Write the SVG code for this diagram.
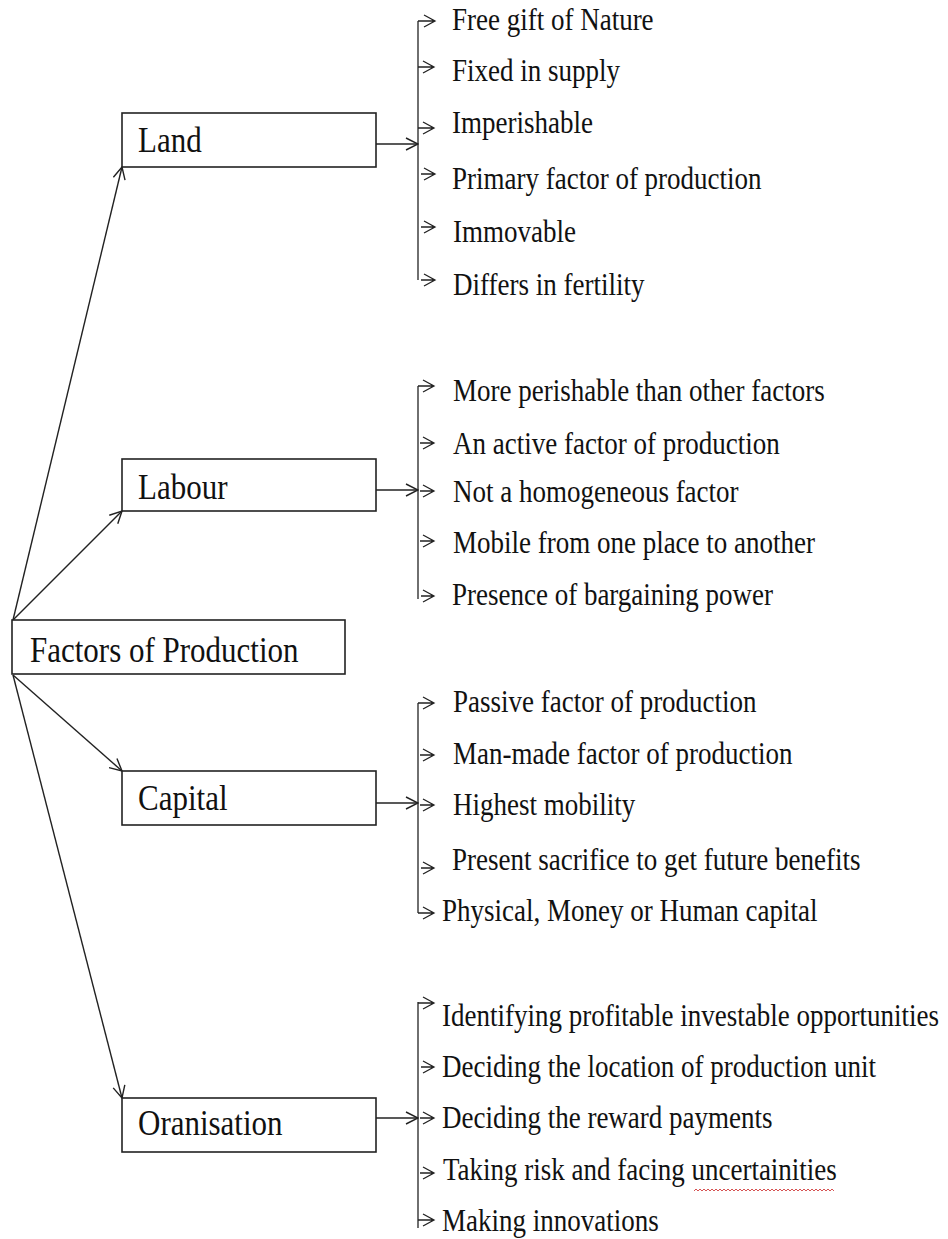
<svg xmlns="http://www.w3.org/2000/svg" width="948" height="1239" viewBox="0 0 948 1239">
<defs>
<style>
.box{fill:#fff;stroke:#222;stroke-width:1.6}
.lbl{font-family:"Liberation Serif","Times New Roman",serif;font-size:31px;fill:#111}
.it{font-family:"Liberation Serif","Times New Roman",serif;font-size:27px;fill:#111}
.ln{fill:none;stroke:#222;stroke-width:1.4}
.sm{fill:none;stroke:#222;stroke-width:1.3}
</style>
<marker id="ah" markerUnits="userSpaceOnUse" viewBox="0 0 14 14" refX="13" refY="7" markerWidth="14" markerHeight="14" orient="auto">
<path d="M1,1 L13,7 L1,13" fill="none" stroke="#222" stroke-width="1.4"/>
</marker>
</defs>
<rect width="948" height="1239" fill="#fff"/>

<g id="connectors">
<line class="ln" x1="13" y1="620" x2="122" y2="167" marker-end="url(#ah)"/>
<line class="ln" x1="13" y1="620" x2="122" y2="511" marker-end="url(#ah)"/>
<line class="ln" x1="13" y1="675" x2="122" y2="771" marker-end="url(#ah)"/>
<line class="ln" x1="13" y1="675" x2="122" y2="1098" marker-end="url(#ah)"/>
<line class="ln" x1="376" y1="144" x2="418" y2="144" marker-end="url(#ah)"/>
<line class="ln" x1="376" y1="490" x2="418" y2="490" marker-end="url(#ah)"/>
<line class="ln" x1="376" y1="803" x2="418" y2="803" marker-end="url(#ah)"/>
<line class="ln" x1="376" y1="1118" x2="418" y2="1118" marker-end="url(#ah)"/>
</g>

<g id="root">
<rect class="box" x="12" y="620" width="333" height="54"/>
<text class="lbl" transform="translate(30,662) scale(1,1.15)">Factors of Production</text>
</g>

<g id="land">
<rect class="box" x="122" y="113" width="254" height="54"/>
<text class="lbl" transform="translate(138,152) scale(1,1.15)">Land</text>
</g>
<g id="labour">
<rect class="box" x="122" y="459" width="254" height="52"/>
<text class="lbl" transform="translate(138,499) scale(1,1.15)">Labour</text>
</g>
<g id="capital">
<rect class="box" x="122" y="771" width="254" height="54"/>
<text class="lbl" transform="translate(138,810) scale(1,1.15)">Capital</text>
</g>
<g id="organisation">
<rect class="box" x="122" y="1098" width="254" height="54"/>
<text class="lbl" transform="translate(138,1135) scale(1,1.15)">Oranisation</text>
</g>

<g id="land-items">
<path class="sm" d="M418,21 V280"/>
<path class="sm" d="M418,21 h17 M424,15 l11,6 l-11,6 M418,67 h16 M423,61 l11,6 l-11,6 M418,128 h16 M423,122 l11,6 l-11,6 M421,174 h14 M424,168 l11,6 l-11,6 M421,227 h14 M424,221 l11,6 l-11,6 M421,280 h14 M424,274 l11,6 l-11,6"/>
<text class="it" transform="translate(452,30) scale(1,1.2)">Free gift of Nature</text>
<text class="it" transform="translate(452,81) scale(1,1.2)">Fixed in supply</text>
<text class="it" transform="translate(452,133) scale(1,1.2)">Imperishable</text>
<text class="it" transform="translate(452,189) scale(1,1.2)">Primary factor of production</text>
<text class="it" transform="translate(453,242) scale(1,1.2)">Immovable</text>
<text class="it" transform="translate(453,295) scale(1,1.2)">Differs in fertility</text>
</g>

<g id="labour-items">
<path class="sm" d="M418,386 V599"/>
<path class="sm" d="M418,386 h16 M423,380 l11,6 l-11,6 M420,443 h14 M423,437 l11,6 l-11,6 M420,491 h14 M423,485 l11,6 l-11,6 M420,541 h14 M423,535 l11,6 l-11,6 M421,596 h13 M423,590 l11,6 l-11,6"/>
<text class="it" transform="translate(453,401) scale(1,1.2)">More perishable than other factors</text>
<text class="it" transform="translate(453,454) scale(1,1.2)">An active factor of production</text>
<text class="it" transform="translate(453,502) scale(1,1.2)">Not a homogeneous factor</text>
<text class="it" transform="translate(453,553) scale(1,1.2)">Mobile from one place to another</text>
<text class="it" transform="translate(452,605) scale(1,1.2)">Presence of bargaining power</text>
</g>

<g id="capital-items">
<path class="sm" d="M418,703 V913"/>
<path class="sm" d="M418,703 h16 M423,697 l11,6 l-11,6 M420,755 h14 M423,749 l11,6 l-11,6 M420,805 h14 M423,799 l11,6 l-11,6 M421,868 h13 M423,862 l11,6 l-11,6 M418,913 h16 M423,907 l11,6 l-11,6"/>
<text class="it" transform="translate(453,712) scale(1,1.2)">Passive factor of production</text>
<text class="it" transform="translate(453,764) scale(1,1.2)">Man-made factor of production</text>
<text class="it" transform="translate(453,815) scale(1,1.2)">Highest mobility</text>
<text class="it" transform="translate(452,870) scale(1,1.2)">Present sacrifice to get future benefits</text>
<text class="it" transform="translate(442,921) scale(1,1.2)">Physical, Money or Human capital</text>
</g>

<g id="organisation-items">
<path class="sm" d="M418,1002 V1228"/>
<path class="sm" d="M418,1003 h16 M423,997 l11,6 l-11,6 M421,1067 h13 M423,1061 l11,6 l-11,6 M420,1118 h14 M423,1112 l11,6 l-11,6 M420,1173 h14 M423,1167 l11,6 l-11,6 M418,1220 h16 M423,1214 l11,6 l-11,6"/>
<text class="it" transform="translate(442,1026) scale(1,1.2)">Identifying profitable investable opportunities</text>
<text class="it" transform="translate(442,1077) scale(1,1.2)">Deciding the location of production unit</text>
<text class="it" transform="translate(442,1128) scale(1,1.2)">Deciding the reward payments</text>
<text class="it" transform="translate(443,1180) scale(1,1.2)">Taking risk and facing uncertainities</text>
<text class="it" transform="translate(442,1231) scale(1,1.2)">Making innovations</text>
<path d="M694,1191 l2,-2 l2,2 l2,-2 l2,2 l2,-2 l2,2 l2,-2 l2,2 l2,-2 l2,2 l2,-2 l2,2 l2,-2 l2,2 l2,-2 l2,2 l2,-2 l2,2 l2,-2 l2,2 l2,-2 l2,2 l2,-2 l2,2 l2,-2 l2,2 l2,-2 l2,2 l2,-2 l2,2 l2,-2 l2,2 l2,-2 l2,2 l2,-2 l2,2 l2,-2 l2,2 l2,-2 l2,2 l2,-2 l2,2 l2,-2 l2,2 l2,-2 l2,2 l2,-2 l2,2 l2,-2 l2,2 l2,-2 l2,2 l2,-2 l2,2 l2,-2 l2,2 l2,-2 l2,2 l2,-2 l2,2 l2,-2 l2,2 l2,-2 l2,2 l2,-2 l2,2 l2,-2 l2,2 l2,-2 l2,2" fill="none" stroke="#d04040" stroke-width="0.9"/>
</g>
</svg>
